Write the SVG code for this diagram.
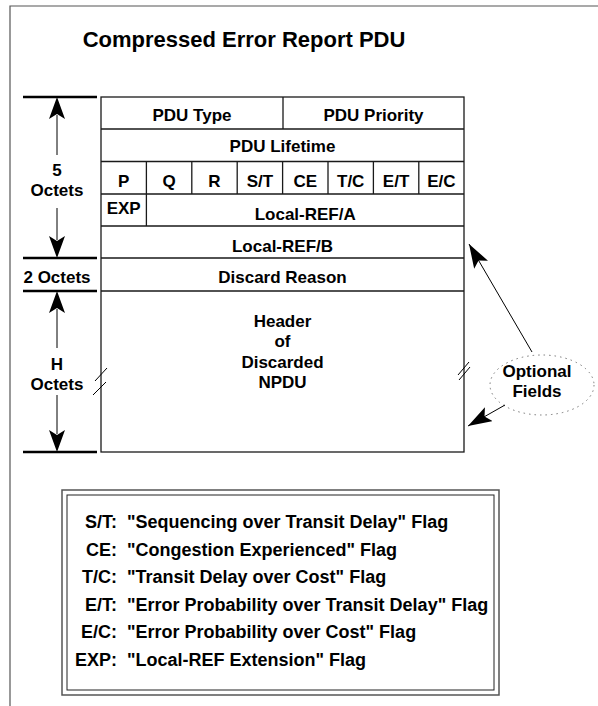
<svg xmlns="http://www.w3.org/2000/svg" width="598" height="706" viewBox="0 0 598 706">
<style>
text{font-family:"Liberation Sans",Arial,sans-serif;font-weight:bold;font-size:17px;fill:#000}
.c{text-anchor:middle}
.e{text-anchor:end}
.title{font-size:22px}
.lg{font-size:18px}
.cell{fill:#fff;stroke:#1a1a1a;stroke-width:1.3}
.ln{stroke:#1a1a1a;stroke-width:1.3;fill:none}
.dim{stroke:#000;stroke-width:2.6}
.shaft{stroke:#000;stroke-width:1}
.head{fill:#000}
.brk{stroke:#000;stroke-width:1;fill:none}
</style>
<defs>
<polygon id="up" points="0,0 8,22 0,17 -8,22"/>
<polygon id="down" points="0,0 8,-22 0,-17 -8,-22"/>
<marker id="ah" viewBox="0 0 24 16" refX="24" refY="8" markerWidth="24" markerHeight="16" markerUnits="userSpaceOnUse" orient="auto">
<path d="M0,0 L24,8 L0,16 L5,8 Z" fill="#000"/>
</marker>
</defs>
<rect width="598" height="706" fill="#fff"/>
<path d="M10,706 V6 H598" fill="none" stroke="#555" stroke-width="1.2"/>
<text class="title c" x="244" y="47">Compressed Error Report PDU</text>

<g id="pdu">
<rect class="cell" x="101" y="97" width="363" height="355"/>
<path class="ln" d="M101,129 H464 M101,161.5 H464 M101,194 H464 M101,226 H464 M101,258 H464 M101,291 H464"/>
<path class="ln" d="M283,97 V129 M146.4,161.5 V226 M191.8,161.5 V194 M237.2,161.5 V194 M282.6,161.5 V194 M328,161.5 V194 M373.4,161.5 V194 M418.8,161.5 V194"/>
</g>
<g id="pdu-type"><text class="c" x="192" y="121">PDU Type</text></g>
<g id="pdu-priority"><text class="c" x="373.5" y="121">PDU Priority</text></g>
<g id="pdu-lifetime"><text class="c" x="282.5" y="152">PDU Lifetime</text></g>
<g id="flags">
<text class="c" x="123.7" y="186.5">P</text>
<text class="c" x="169.1" y="186.5">Q</text>
<text class="c" x="214.5" y="186.5">R</text>
<text class="c" x="259.9" y="186.5">S/T</text>
<text class="c" x="305.3" y="186.5">CE</text>
<text class="c" x="350.7" y="186.5">T/C</text>
<text class="c" x="396.1" y="186.5">E/T</text>
<text class="c" x="441.4" y="186.5">E/C</text>
</g>
<g id="exp"><text class="c" x="123.7" y="214">EXP</text></g>
<g id="local-ref-a"><text class="c" x="305.2" y="220">Local-REF/A</text></g>
<g id="local-ref-b"><text class="c" x="282.5" y="251.5">Local-REF/B</text></g>
<g id="discard-reason"><text class="c" x="282.5" y="283">Discard Reason</text></g>
<g id="header">
<text class="c" x="282.5" y="327">Header</text>
<text class="c" x="282.5" y="347">of</text>
<text class="c" x="282.5" y="368">Discarded</text>
<text class="c" x="282.5" y="388">NPDU</text>
</g>

<g id="dimensions">
<path class="dim" d="M23,97 H97 M23,258 H97 M23,291 H97 M23,452 H97"/>
<path class="shaft" d="M57,115 V155 M57,208 V240 M57,309 V348 M57,395 V434"/>
<use href="#up" x="57" y="97" class="head"/>
<use href="#down" x="57" y="258" class="head"/>
<use href="#up" x="57" y="291" class="head"/>
<use href="#down" x="57" y="452" class="head"/>
<text class="c" x="57" y="176">5</text>
<text class="c" x="57" y="196">Octets</text>
<text class="c" x="57" y="283">2 Octets</text>
<text class="c" x="57" y="370">H</text>
<text class="c" x="57" y="390">Octets</text>
</g>

<g id="breaks">
<path class="brk" d="M107,368 L95,381 M106,382 L93,395"/>
<path class="brk" d="M469,362 L458,375 M470,367 L459,380"/>
</g>

<g id="optional-fields">
<ellipse cx="542" cy="385" rx="52" ry="30" fill="none" stroke="#777" stroke-width="1" stroke-dasharray="1.5,4"/>
<text class="c" x="537" y="377">Optional</text>
<text class="c" x="537" y="397">Fields</text>
</g>

<g id="connectors">
<line x1="532" y1="352" x2="469" y2="244" stroke="#000" stroke-width="1" marker-end="url(#ah)"/>
<line x1="505" y1="405" x2="468" y2="426" stroke="#000" stroke-width="1" marker-end="url(#ah)"/>
</g>

<g id="legend">
<rect x="62" y="490" width="437" height="205" fill="none" stroke="#555" stroke-width="1.5"/>
<rect x="67" y="495" width="427" height="195" fill="none" stroke="#222" stroke-width="1"/>
<text class="lg e" x="117" y="528">S/T:</text><text class="lg" x="127" y="528">"Sequencing over Transit Delay" Flag</text>
<text class="lg e" x="117" y="555.5">CE:</text><text class="lg" x="127" y="555.5">"Congestion Experienced" Flag</text>
<text class="lg e" x="117" y="583">T/C:</text><text class="lg" x="127" y="583">"Transit Delay over Cost" Flag</text>
<text class="lg e" x="117" y="610.5">E/T:</text><text class="lg" x="127" y="610.5">"Error Probability over Transit Delay" Flag</text>
<text class="lg e" x="117" y="638">E/C:</text><text class="lg" x="127" y="638">"Error Probability over Cost" Flag</text>
<text class="lg e" x="117" y="665.5">EXP:</text><text class="lg" x="127" y="665.5">"Local-REF Extension" Flag</text>
</g>
</svg>
